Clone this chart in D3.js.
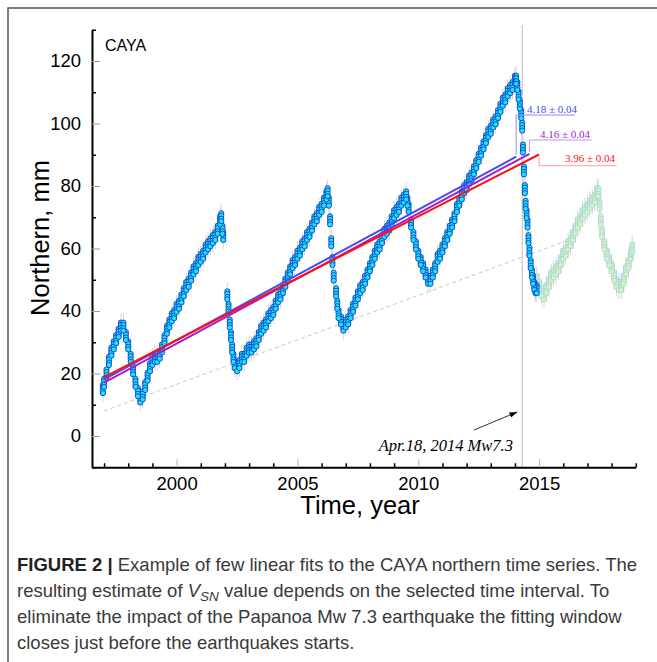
<!DOCTYPE html>
<html>
<head>
<meta charset="utf-8">
<script src="https://cdn.jsdelivr.net/npm/d3@7"></script>
<style>
  body { margin: 0; background: #fff; }
  svg { display: block; }
</style>
</head>
<body>
<svg id="chart" width="657" height="662"></svg>
<script>
// CAYA northern component (decimal year, mm)
const years = [
  1996.95, 1997.0, 1997.1, 1997.2, 1997.3, 1997.4, 1997.5, 1997.6, 1997.7, 1997.8, 1997.9,
  1998.0, 1998.1, 1998.2, 1998.3, 1998.4, 1998.5, 1998.6, 1998.7, 1998.8, 1998.9,
  1999.0, 1999.1, 1999.2, 1999.3, 1999.4, 1999.5, 1999.6, 1999.7, 1999.8, 1999.9,
  2000.0, 2000.1, 2000.2, 2000.3, 2000.4, 2000.5, 2000.6, 2000.7, 2000.8, 2000.9,
  2001.0, 2001.1, 2001.2, 2001.3, 2001.4, 2001.5, 2001.6, 2001.7, 2001.8, 2001.85, 2001.9, 2001.93,
  2002.1, 2002.15, 2002.2, 2002.25, 2002.3, 2002.35, 2002.4, 2002.5, 2002.6, 2002.7, 2002.8, 2002.9,
  2003.0, 2003.1, 2003.2, 2003.3, 2003.4, 2003.5, 2003.6, 2003.7, 2003.8, 2003.9,
  2004.0, 2004.1, 2004.2, 2004.3, 2004.4, 2004.5, 2004.6, 2004.7, 2004.8, 2004.9,
  2005.0, 2005.1, 2005.2, 2005.3, 2005.4, 2005.5, 2005.6, 2005.7, 2005.8, 2005.9,
  2006.0, 2006.1, 2006.2, 2006.25, 2006.3, 2006.35, 2006.4, 2006.45, 2006.5,
  2006.6, 2006.65, 2006.7, 2006.8, 2006.9,
  2007.0, 2007.1, 2007.2, 2007.3, 2007.4, 2007.5, 2007.6, 2007.7, 2007.8, 2007.9,
  2008.0, 2008.1, 2008.2, 2008.3, 2008.4, 2008.5, 2008.6, 2008.7, 2008.8, 2008.9,
  2009.0, 2009.1, 2009.2, 2009.3, 2009.4, 2009.5, 2009.55, 2009.6, 2009.7, 2009.8, 2009.9,
  2010.0, 2010.1, 2010.2, 2010.3, 2010.4, 2010.5, 2010.6, 2010.7, 2010.8, 2010.9,
  2011.0, 2011.1, 2011.2, 2011.3, 2011.4, 2011.5, 2011.6, 2011.7, 2011.8, 2011.9,
  2012.0, 2012.1, 2012.2, 2012.3, 2012.4, 2012.5, 2012.6, 2012.7, 2012.8, 2012.9,
  2013.0, 2013.1, 2013.2, 2013.3, 2013.4, 2013.5, 2013.6, 2013.7, 2013.8, 2013.9,
  2014.0, 2014.05, 2014.1, 2014.15, 2014.2, 2014.26, 2014.3, 2014.33, 2014.37, 2014.41,
  2014.44, 2014.48, 2014.52, 2014.56, 2014.6, 2014.65, 2014.7, 2014.75, 2014.8, 2014.85, 2014.9
];
const north = [
  15, 17, 20, 24, 27, 29, 31, 33, 35, 35, 32,
  29, 25, 21, 17, 14, 12, 13, 16, 19, 22,
  24, 25, 25, 26, 28, 31, 34, 36, 38, 39,
  41, 42, 44, 46, 48, 49, 51, 53, 54, 56,
  57, 58, 60, 61, 62, 63, 64, 66, 69, 70, 66, 64,
  45, 41, 36, 32, 28, 25, 23, 22, 23, 25, 25, 27,
  28, 28, 29, 30, 32, 34, 35, 36, 38, 39,
  40, 42, 44, 45, 47, 49, 51, 53, 55, 56,
  58, 59, 61, 62, 64, 65, 67, 69, 70, 72,
  73, 75, 77, 78, 75, 69, 62, 56, 51,
  46, 42, 39, 37, 35,
  36, 37, 39, 41, 43, 45, 47, 48, 50, 52,
  54, 56, 58, 60, 61, 63, 65, 66, 67, 69,
  71, 72, 73, 75, 76, 77, 75, 73, 68, 64, 61,
  58, 56, 54, 52, 50, 50, 52, 54, 57, 58,
  60, 62, 64, 66, 68, 70, 73, 75, 77, 79,
  80, 82, 83, 85, 87, 89, 91, 93, 95, 97,
  98, 100, 101, 103, 105, 107, 108, 110, 111, 112,
  114, 114, 112, 109, 106, 103, 99, 92, 85, 79,
  74, 71, 68, 63, 59, 55, 52, 50, 48, 47, 47
];

// after the Papanoa earthquake (not used in the fits)
const yearsPost = [
  2014.9, 2015.0, 2015.1, 2015.2, 2015.3, 2015.4, 2015.5, 2015.6, 2015.7, 2015.8, 2015.9,
  2016.0, 2016.1, 2016.2, 2016.3, 2016.4, 2016.5, 2016.6, 2016.7, 2016.8, 2016.9,
  2017.0, 2017.1, 2017.2, 2017.3, 2017.4, 2017.45, 2017.5, 2017.55, 2017.6, 2017.7, 2017.8, 2017.9,
  2018.0, 2018.1, 2018.2, 2018.3, 2018.4, 2018.5, 2018.6, 2018.7, 2018.8, 2018.85
];
const northPost = [
  50, 48, 46, 45, 47, 49, 51, 52, 53, 54, 56,
  58, 59, 61, 62, 64, 66, 68, 69, 71, 72,
  73, 74, 75, 76, 78, 78, 74, 69, 65, 61, 58, 56,
  54, 51, 49, 48, 48, 50, 53, 55, 58, 60
];

// linear fits: rate (mm/yr), window, value at window start
const fitRates = [4.18, 4.16, 3.96];
const fitLabels = ["4.18 \u00b1 0.04", "4.16 \u00b1 0.04", "3.96 \u00b1 0.04"];
const fitStart = [1997.0, 1997.0, 1997.0];
const fitEnd = [2014.05, 2014.6, 2015.0];
const fitV0 = [18.1, 17.1, 18.8];

// reference trend (dashed)
const trendT = [1997.0, 2016.5];
const trendV = [8, 63.5];

const quakeYear = 2014.3;
const xMajor = [2000, 2005, 2010, 2015];
const xMinor = d3.range(1997, 2020).filter(d => !xMajor.includes(d));
const yMajor = [0, 20, 40, 60, 80, 100, 120];
const yMinor = [-10, 10, 30, 50, 70, 90, 110, 130];

const svg = d3.select("#chart");
const x = d3.scaleLinear().domain([1996.5, 2019]).range([92, 635.8]);
const y = d3.scaleLinear().domain([-10, 130]).range([467.25, 29.75]);

// figure frame
svg.append("path")
  .attr("d", "M8,662 L8,8 L657,8")
  .attr("fill", "none")
  .attr("stroke", "#555")
  .attr("stroke-width", 1.5);

const plot = svg.append("g");

// dashed trend
plot.append("line")
  .attr("x1", x(trendT[0])).attr("y1", y(trendV[0]))
  .attr("x2", x(trendT[1])).attr("y2", y(trendV[1]))
  .attr("stroke", "#c8c8c8")
  .attr("stroke-width", 1)
  .attr("stroke-dasharray", "4,3");

// earthquake marker
plot.append("line")
  .attr("x1", x(quakeYear)).attr("x2", x(quakeYear))
  .attr("y1", 25).attr("y2", y(-10))
  .attr("stroke", "#bbb")
  .attr("stroke-width", 1);

const pre = years.map((t, i) => ({ t: t, v: north[i] }));
const post = yearsPost.map((t, i) => ({ t: t, v: northPost[i] }));

// error bars
plot.append("g")
  .selectAll("line")
  .data(pre.concat(post))
  .enter()
  .append("line")
  .attr("x1", d => x(d.t)).attr("x2", d => x(d.t))
  .attr("y1", d => y(d.v) - 13).attr("y2", d => y(d.v) + 13)
  .attr("stroke", "#d6d6d6")
  .attr("stroke-width", 1);

// each reading drawn as a small vertical stack of daily dots
const spread = [-4, -1.5, 1.5, 4];

function dots(data, fill, stroke, opacity) {
  let g = plot.append("g").attr("opacity", opacity);
  spread.forEach(off => {
    g.append("g")
      .selectAll("circle")
      .data(data)
      .enter()
      .append("circle")
      .attr("cx", d => x(d.t))
      .attr("cy", d => y(d.v) + off)
      .attr("r", 2.6)
      .attr("fill", fill)
      .attr("stroke", stroke)
      .attr("stroke-width", 0.9);
  });
}

dots(post, "#dff3a8", "#8fd3ef", 0.85);
dots(pre, "#1ee4fb", "#0f3cc4", 1);

// fit lines (blue one lies under the purple one)
const fitColors = ["#4a4af0", "#a020d0", "#ff1010"];
const fitLight = ["#8c8cff", "#c890ff", "#ff9a9a"];
fitRates.forEach((r, i) => {
  plot.append("line")
    .attr("x1", x(fitStart[i])).attr("y1", y(fitV0[i]))
    .attr("x2", x(fitEnd[i])).attr("y2", y(fitV0[i] + r * (fitEnd[i] - fitStart[i])))
    .attr("stroke", fitColors[i])
    .attr("stroke-width", 2);
});
// draw order: red above purple
plot.selectAll("line").filter(function() { return this.getAttribute("stroke") === "#ff1010"; }).raise();

// fit labels with leaders
const leaderTop = [115, 140, 165.7];   // px where the leader turns
const leaderRight = [575, 591.7, 616.7];
const labelX = [527, 540, 565];
const labelBase = [113, 137.5, 161.5];
fitRates.forEach((r, i) => {
  let xe = x(fitEnd[i]);
  let ye = y(fitV0[i] + r * (fitEnd[i] - fitStart[i]));
  plot.append("path")
    .attr("d", `M${xe},${ye + (i === 2 ? 2 : -2)} L${xe},${leaderTop[i]} L${leaderRight[i]},${leaderTop[i]}`)
    .attr("fill", "none")
    .attr("stroke", fitLight[i])
    .attr("stroke-width", 1);
  plot.append("text")
    .attr("x", labelX[i])
    .attr("y", labelBase[i])
    .attr("font-family", "'Liberation Serif', 'Times New Roman', serif")
    .attr("font-size", 11)
    .attr("fill", fitColors[i])
    .text(fitLabels[i]);
});

// axes
function styleAxis(g) {
  g.select(".domain").attr("stroke", "#000").attr("stroke-width", 2);
  g.selectAll("text")
    .attr("font-family", "'Liberation Sans', Arial, Helvetica, sans-serif")
    .attr("font-size", 18.5)
    .attr("fill", "#000");
}

let xAxis = svg.append("g")
  .attr("transform", `translate(0,${y(-10)})`)
  .call(d3.axisBottom(x).tickValues(xMajor).tickFormat(d3.format("d"))
    .tickSize(-8).tickSizeOuter(0).tickPadding(9.5));
styleAxis(xAxis);
xAxis.selectAll(".tick line").attr("stroke", "#a8aee6").attr("stroke-width", 1);

let xAxisMinor = svg.append("g")
  .attr("transform", `translate(0,${y(-10)})`)
  .call(d3.axisBottom(x).tickValues(xMinor).tickFormat("").tickSize(-4).tickSizeOuter(0));
xAxisMinor.select(".domain").remove();
xAxisMinor.selectAll(".tick line").attr("stroke", "#000").attr("stroke-width", 1.5);

let yAxis = svg.append("g")
  .attr("transform", `translate(${x(1996.5)},0)`)
  .call(d3.axisLeft(y).tickValues(yMajor).tickSize(-8).tickSizeOuter(0).tickPadding(11));
styleAxis(yAxis);
yAxis.selectAll(".tick line").attr("stroke", "#999").attr("stroke-width", 1);

let yAxisMinor = svg.append("g")
  .attr("transform", `translate(${x(1996.5)},0)`)
  .call(d3.axisLeft(y).tickValues(yMinor).tickFormat("").tickSize(-4).tickSizeOuter(0));
yAxisMinor.select(".domain").remove();
yAxisMinor.selectAll(".tick line").attr("stroke", "#000").attr("stroke-width", 1.5);

// axis titles
svg.append("text")
  .attr("x", 360).attr("y", 514)
  .attr("text-anchor", "middle")
  .attr("font-family", "'Liberation Sans', Arial, Helvetica, sans-serif")
  .attr("font-size", 25.5)
  .text("Time, year");

svg.append("text")
  .attr("transform", "translate(49,238) rotate(-90)")
  .attr("text-anchor", "middle")
  .attr("font-family", "'Liberation Sans', Arial, Helvetica, sans-serif")
  .attr("font-size", 25.5)
  .text("Northern, mm");

// station name
svg.append("text")
  .attr("x", 105).attr("y", 50.5)
  .attr("font-family", "'Liberation Sans', Arial, Helvetica, sans-serif")
  .attr("font-size", 16)
  .text("CAYA");

// earthquake annotation
svg.append("defs").append("marker")
  .attr("id", "arrow")
  .attr("viewBox", "0 0 10 10")
  .attr("refX", 10).attr("refY", 5)
  .attr("markerWidth", 8).attr("markerHeight", 8)
  .attr("markerUnits", "userSpaceOnUse")
  .attr("orient", "auto")
  .append("path")
  .attr("d", "M0,1.5 L10,5 L0,8.5 Z")
  .attr("fill", "#000");

svg.append("line")
  .attr("x1", x(2012.3)).attr("y1", y(1.9))
  .attr("x2", x(2014.1)).attr("y2", y(7.7))
  .attr("stroke", "#000")
  .attr("stroke-width", 0.8)
  .attr("marker-end", "url(#arrow)");

svg.append("text")
  .attr("x", 513).attr("y", 451)
  .attr("text-anchor", "end")
  .attr("font-family", "'Liberation Serif', 'Times New Roman', serif")
  .attr("font-style", "italic")
  .attr("font-size", 16.5)
  .text("Apr.18, 2014 Mw7.3");

// caption
const cap = svg.append("g")
  .attr("font-family", "'Liberation Sans', Arial, Helvetica, sans-serif")
  .attr("font-size", 18.5)
  .attr("fill", "#3a3a3a");

let l1 = cap.append("text").attr("x", 17).attr("y", 571);
l1.append("tspan").attr("font-weight", "bold").attr("fill", "#222").text("FIGURE 2 | ");
l1.append("tspan").text("Example of few linear fits to the CAYA northern time series. The");

let l2 = cap.append("text").attr("x", 17).attr("y", 597);
l2.append("tspan").text("resulting estimate of ");
l2.append("tspan").attr("font-style", "italic").text("V");
l2.append("tspan").attr("font-style", "italic").attr("font-size", 13.5).attr("dy", 4).text("SN");
l2.append("tspan").attr("dy", -4).text(" value depends on the selected time interval. To");

cap.append("text").attr("x", 17).attr("y", 623)
  .text("eliminate the impact of the Papanoa Mw 7.3 earthquake the fitting window");
cap.append("text").attr("x", 17).attr("y", 648.5)
  .text("closes just before the earthquakes starts.");
</script>
</body>
</html>
